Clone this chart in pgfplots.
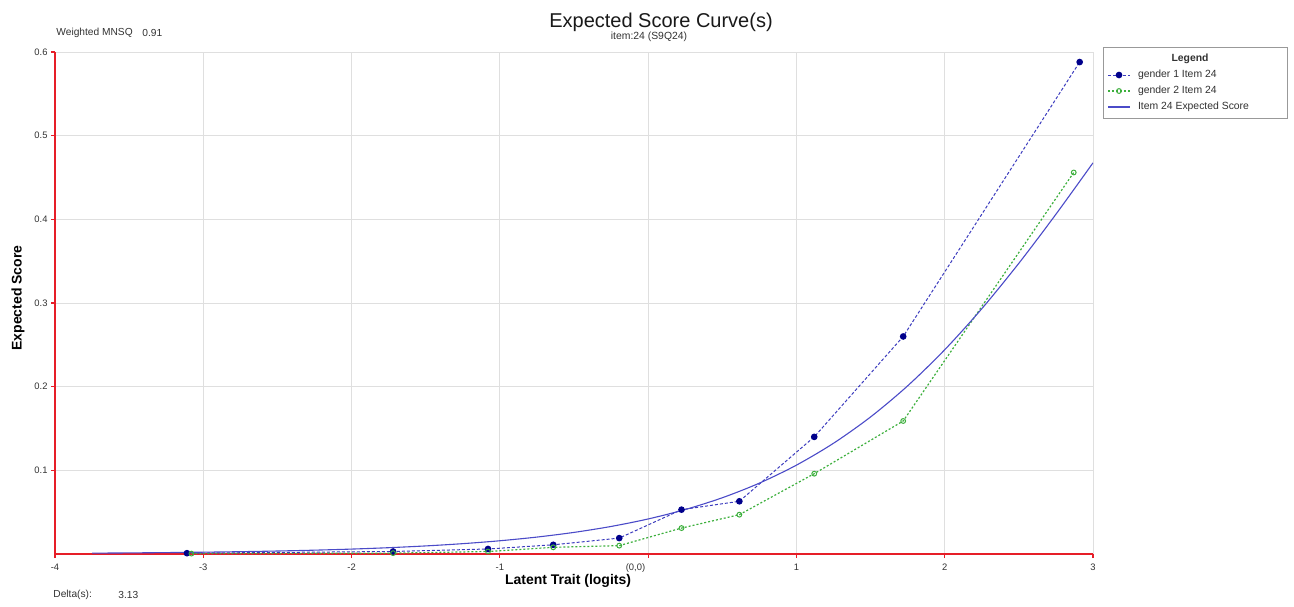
\documentclass[border=0pt]{standalone}
\usepackage{fontspec}
\setmainfont{Liberation Sans}
\usepackage{pgfplots}
\pgfplotsset{compat=1.18}
\definecolor{gOneMark}{RGB}{0,0,139}
\definecolor{gOneLine}{RGB}{60,60,190}
\definecolor{gTwo}{RGB}{60,175,60}
\definecolor{expc}{RGB}{75,75,200}
\definecolor{axred}{RGB}{230,30,40}
\definecolor{txt}{RGB}{50,50,50}

\begin{document}
\begin{tikzpicture}
\path[use as bounding box] (0,0) rectangle (647pt,303pt);
\begin{axis}[
  at={(27.5pt,26pt)}, anchor=south west,
  scale only axis, width=519pt, height=251pt,
  xmin=-4, xmax=3, ymin=0, ymax=0.6,
  axis x line*=bottom, axis y line*=left,
  axis line style={axred, line width=0.8pt},
  xtick={-4,-3,-2,-1,0,1,2,3},
  xticklabels={-4,-3,-2,-1,{\makebox[0pt][r]{(0,0)\kern1.5pt}},1,2,3},
  ytick={0.1,0.2,0.3,0.4,0.5,0.6},
  yticklabels={0.1,0.2,0.3,0.4,0.5,0.6},
  tick style={axred, line width=0.6pt},
  major tick length=2pt, tick align=outside,
  grid=major, major grid style={gray!25, line width=0.5pt},
  tick label style={font=\fontsize{4.7}{5}\selectfont, text=txt},
  xticklabel style={yshift=0.5pt},
  yticklabel style={xshift=1.8pt},
  legend style={at={(axis description cs:1,1)}, anchor=north west,
    xshift=5pt, yshift=2.5pt, draw=gray!80, fill=white,
    font=\fontsize{5.2}{6}\selectfont, inner sep=2pt, row sep=0.4pt,
    nodes={inner sep=1.2pt, text height=3.9pt, text depth=1.3pt, text=txt}},
  legend cell align=left,
  legend image code/.code={\draw[mark repeat=2,mark phase=2] plot coordinates {(0pt,0pt)(5.5pt,0pt)(11pt,0pt)};},
]
\addlegendimage{empty legend}
\addlegendentry{\hspace*{2.5pt}\makebox[52pt][c]{\textbf{Legend}}}

\addplot[gOneLine, line width=0.5pt, dash pattern=on 1.5pt off 1pt,
  mark=*, mark size=1.4pt, mark options={solid, fill=gOneMark, draw=gOneMark}]
coordinates {(-3.11,0.001) (-1.72,0.003) (-1.08,0.006) (-0.64,0.011) (-0.195,0.019)
 (0.225,0.053) (0.615,0.063) (1.12,0.140) (1.72,0.260) (2.91,0.588)};
\addlegendentry{\hspace*{2.5pt}\makebox[71.5pt][l]{gender 1 Item 24}}

\addplot[gTwo, line width=0.6pt, dash pattern=on 1pt off 1pt,
  mark=o, mark size=1.2pt, mark options={solid, draw=gTwo, line width=0.5pt}]
coordinates {(-3.08,0.0005) (-1.72,0.001) (-1.08,0.003) (-0.64,0.008) (-0.195,0.010)
 (0.225,0.031) (0.615,0.047) (1.12,0.096) (1.72,0.159) (2.87,0.456)};
\addlegendentry{\hspace*{2.5pt}\makebox[71.5pt][l]{gender 2 Item 24}}

\addplot[expc, line width=0.55pt, smooth,
  legend image code/.code={\draw[expc, line width=0.55pt] (0pt,0pt) -- (11pt,0pt);}]
coordinates {
 (-3.75,0.001026) (-3.5,0.001317) (-3.25,0.001691) (-3.0,0.002171)
 (-2.75,0.002786) (-2.5,0.003575) (-2.25,0.004586) (-2.0,0.005882)
 (-1.75,0.007541) (-1.5,0.009662) (-1.25,0.012372) (-1.0,0.015831)
 (-0.75,0.020236) (-0.5,0.025836) (-0.25,0.032926) (0,0.041887)
 (0.25,0.053151) (0.5,0.067232) (0.75,0.084711) (1.0,0.106216)
 (1.25,0.132388) (1.5,0.163831) (1.75,0.201008) (2.0,0.244161)
 (2.25,0.293177) (2.5,0.347527) (2.75,0.406128) (3.0,0.467546)};
\addlegendentry{\hspace*{2.5pt}\makebox[71.5pt][l]{Item 24 Expected Score}}
\end{axis}

\node[font=\fontsize{10}{12}\selectfont, text=black!90] at (330.5pt,292pt) {Expected Score Curve(s)};
\node[font=\fontsize{5.2}{6}\selectfont, text=txt] at (324.5pt,284.5pt) {item:24 (S9Q24)};
\node[anchor=west, font=\fontsize{5.1}{6}\selectfont, text=txt, inner sep=0pt] at (28pt,286.5pt) {Weighted MNSQ};
\node[anchor=west, font=\fontsize{5.1}{6}\selectfont, text=txt, inner sep=0pt] at (71pt,286.5pt) {0.91};
\node[anchor=west, font=\fontsize{5.1}{6}\selectfont, text=txt, inner sep=0pt] at (26.5pt,5.5pt) {Delta(s):};
\node[anchor=west, font=\fontsize{5.1}{6}\selectfont, text=txt, inner sep=0pt] at (59pt,5.5pt) {3.13};
\node[font=\bfseries\fontsize{7}{8}\selectfont] at (284pt,12.5pt) {Latent Trait (logits)};
\node[rotate=90, font=\bfseries\fontsize{7}{8}\selectfont] at (9pt,154pt) {Expected Score};
\end{tikzpicture}
\end{document}
